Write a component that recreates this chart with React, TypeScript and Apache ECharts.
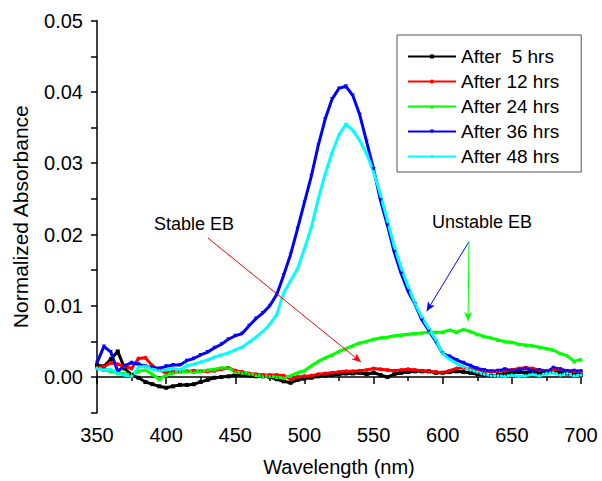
import React, { useEffect, useRef } from "react";
import * as echarts from "echarts";

const wavelength = [
  350, 355, 360, 365, 370, 375, 380, 385, 390, 395,
  400, 405, 410, 415, 420, 425, 430, 435, 440, 445,
  450, 455, 460, 465, 470, 475, 480, 485, 490, 495,
  500, 505, 510, 515, 520, 525, 530, 535, 540, 545,
  550, 555, 560, 565, 570, 575, 580, 585, 590, 595,
  600, 605, 610, 615, 620, 625, 630, 635, 640, 645,
  650, 655, 660, 665, 670, 675, 680, 685, 690, 695, 700,
];

const after5 = [
  1.7, 1.5, 2.5, 3.6, 1.2, 0.3, -0.1, -0.7, -1.0, -1.3,
  -1.5, -1.3, -1.1, -1.1, -1.0, -0.7, -0.4, -0.1, 0.0, 0.1,
  0.3, 0.3, 0.2, 0.1, 0.1, 0.0, -0.3, -0.6, -0.8, -0.4,
  -0.2, -0.1, 0.1, 0.2, 0.3, 0.4, 0.5, 0.5, 0.6, 0.4,
  0.6, 0.3, 0.0, 0.4, 0.6, 0.7, 0.8, 0.8, 0.8, 0.6,
  0.6, 0.7, 0.8, 0.7, 0.6, 0.4, 0.3, 0.2, 0.3, 0.5,
  0.6, 0.7, 0.6, 0.7, 0.6, 0.7, 0.8, 0.6, 0.5, 0.4, 0.3,
];

const after12 = [
  1.3, 1.5, 2.0, 1.8, 1.5, 1.2, 2.6, 2.7, 1.6, 1.0,
  0.6, 0.7, 0.8, 0.8, 0.9, 0.8, 0.8, 0.9, 1.1, 1.3,
  0.9, 0.7, 0.5, 0.4, 0.3, 0.3, 0.3, 0.2, -0.3, 0.0,
  0.1, 0.2, 0.4, 0.5, 0.6, 0.7, 0.8, 0.8, 0.9, 1.0,
  1.2, 1.1, 1.0, 0.9, 1.0, 1.1, 1.0, 0.9, 0.8, 0.7,
  0.6, 0.9, 1.2, 1.3, 1.1, 0.9, 0.8, 0.8, 0.8, 0.9,
  1.0, 1.2, 1.3, 1.2, 1.0, 0.9, 1.0, 1.1, 0.9, 0.8, 0.8,
];

const after24 = [
  1.3, 1.0, 0.8, 0.6, 0.5, 0.3, 0.8, 1.0, 0.4, -0.3,
  0.3, 0.6, 0.7, 0.8, 0.7, 0.8, 1.0, 1.1, 1.3, 1.3,
  0.7, 0.6, 0.5, 0.3, 0.1, 0.1, 0.0, -0.1, 0.2, 0.6,
  0.9, 1.6, 2.2, 2.7, 3.1, 3.6, 4.0, 4.4, 4.8, 5.0,
  5.3, 5.5, 5.6, 5.8, 5.9, 6.0, 6.1, 6.2, 6.3, 6.3,
  6.3, 6.6, 6.3, 6.7, 6.4, 6.0, 5.7, 5.5, 5.2, 5.0,
  4.9, 4.6, 4.5, 4.4, 4.2, 4.0, 3.8, 3.3, 3.0, 2.2, 2.5,
];

const after36 = [
  2.0, 4.3, 3.5, 0.8, 1.6, 2.0, 1.8, 1.5, 1.3, 1.2,
  1.5, 1.7, 1.7, 2.3, 2.6, 3.1, 3.5, 4.1, 4.6, 5.3,
  5.8, 6.1, 7.2, 8.2, 9.0, 10.0, 11.6, 14.3, 17.2, 20.8,
  24.5, 28.2, 32.5, 36.2, 39.0, 40.5, 40.8, 39.5, 36.8, 33.0,
  29.2, 24.8, 21.3, 17.5, 14.5, 12.0, 10.2, 8.0, 6.5, 5.0,
  3.3, 2.9, 2.4, 2.0, 1.6, 1.2, 1.0, 0.8, 0.9, 1.1,
  0.9, 1.0, 1.2, 0.9, 1.0, 0.7, 1.3, 1.1, 0.8, 0.9, 0.8,
];

const after48 = [
  1.2, 1.0, 1.1, 0.5, 0.3, 0.1, 1.4, 1.5, 1.1, 0.9,
  1.0, 1.2, 1.0, 1.6, 1.8, 2.1, 2.4, 2.8, 3.1, 3.4,
  3.8, 4.2, 4.9, 5.6, 6.4, 7.4, 8.8, 11.8, 13.5, 15.2,
  18.0, 21.0, 25.0, 28.5, 31.5, 34.0, 35.5, 34.6, 33.2, 31.3,
  28.8, 25.6, 22.0, 18.3, 15.3, 12.7, 10.3, 8.4, 6.8, 5.2,
  3.3, 2.5, 1.9, 1.4, 1.0, 0.7, 0.4, 0.2, 0.2, 0.1,
  0.3, 0.1, 0.2, 0.4, 0.2, 0.5, 0.6, 0.3, 0.5, 0.2, 0.3,
];

const seriesNames = ["After  5 hrs", "After 12 hrs", "After 24 hrs", "After 36 hrs", "After 48 hrs"];
const seriesColors = ["#000000", "#ff0000", "#00ff00", "#0000ff", "#00ffff"];
const seriesSymbols = ["rect", "circle", "triangle", "triangle", "diamond"];
const seriesRotations = [0, 0, 0, 180, 0];
const seriesValues = [after5, after12, after24, after36, after48];

// Annotation arrows in data coordinates: [x0, y0, x1, y1]
const stableArrow = [430.3, 0.0195, 540.9, 0.0021];
const unstableBlueArrow = [619.0, 0.019, 588.4, 0.00925];
const unstableGreenArrow = [619.0, 0.019, 618.3, 0.00785];

const FONT = "Liberation Sans, Arial, sans-serif";

export default function App() {
  const ref = useRef<HTMLDivElement>(null);

  useEffect(() => {
    if (!ref.current) return;
    const chart = echarts.init(ref.current, null, { renderer: "svg" });

    const lineSeries = seriesValues.map((vals, i) => ({
      name: seriesNames[i],
      type: "line",
      data: wavelength.map((w, j) => [w, vals[j] / 1000]),
      symbol: seriesSymbols[i],
      symbolRotate: seriesRotations[i],
      symbolSize: 4,
      showSymbol: true,
      lineStyle: { color: seriesColors[i], width: 3 },
      itemStyle: { color: seriesColors[i] },
      emphasis: { disabled: true },
    }));

    const arrow = (a: number[], color: string) => [
      { coord: [a[0], a[1]], lineStyle: { color, width: 1, type: "solid" } },
      { coord: [a[2], a[3]] },
    ];

    const option: any = {
      animation: false,
      backgroundColor: "#ffffff",
      textStyle: { fontFamily: FONT },
      grid: { left: 97, right: 21, top: 20.7, bottom: 68.3, outerBoundsMode: "none", containLabel: false },
      legend: {
        data: seriesNames,
        orient: "vertical",
        left: 397,
        top: 35,
        itemWidth: 48,
        itemHeight: 5,
        itemGap: 6,
        padding: [12, 22, 6, 10],
        borderColor: "#555",
        borderWidth: 1,
        backgroundColor: "#ffffff",
        textStyle: { fontSize: 19, color: "#000", fontFamily: FONT, lineHeight: 19 },
      },
      xAxis: {
        type: "value",
        min: 350,
        max: 700,
        interval: 50,
        name: "Wavelength (nm)",
        nameLocation: "middle",
        nameGap: 44,
        nameTextStyle: { fontSize: 20, color: "#000", fontFamily: FONT },
        axisLine: { lineStyle: { color: "#000", width: 1.5 } },
        axisTick: { length: 7, lineStyle: { color: "#000", width: 1.5 } },
        minorTick: { show: true, splitNumber: 2, length: 4, lineStyle: { color: "#000", width: 1.5 } },
        axisLabel: { fontSize: 20, color: "#000", margin: 12, fontFamily: FONT },
        splitLine: { show: false },
      },
      yAxis: {
        type: "value",
        min: -0.005,
        max: 0.05,
        interval: 0.005,
        name: "Normalized Absorbance",
        nameLocation: "middle",
        nameGap: 66,
        nameTextStyle: { fontSize: 21, color: "#000", fontFamily: FONT },
        axisLine: { show: true, lineStyle: { color: "#000", width: 1.5 } },
        axisTick: { length: 6, lineStyle: { color: "#000", width: 1.5 } },
        axisLabel: {
          fontSize: 20,
          color: "#000",
          margin: 14,
          fontFamily: FONT,
          formatter: (v: number) => (Math.round(v * 1000) % 10 === 0 ? v.toFixed(2) : ""),
        },
        splitLine: { show: false },
      },
      series: [
        ...lineSeries,
        {
          name: "annotations",
          type: "line",
          data: [],
          markLine: {
            silent: true,
            symbol: ["none", "arrow"],
            symbolSize: [6, 9],
            label: { show: false },
            data: [
              arrow(stableArrow, "#ff0000"),
              arrow(unstableBlueArrow, "#0000ff"),
              arrow(unstableGreenArrow, "#00ff00"),
            ],
          },
        },
      ],
      graphic: [
        {
          type: "text",
          x: 194,
          y: 224,
          style: { text: "Stable EB", fontSize: 18, fill: "#000", font: `18px ${FONT}`, align: "center", verticalAlign: "middle" },
        },
        {
          type: "text",
          x: 482,
          y: 222,
          style: { text: "Unstable EB", fontSize: 18, fill: "#000", font: `18px ${FONT}`, align: "center", verticalAlign: "middle" },
        },
      ],
    };

    chart.setOption(option);
    return () => chart.dispose();
  }, []);

  return (
    <div
      ref={ref}
      style={{ position: "fixed", left: 0, top: 0, width: 602, height: 481, background: "#fff" }}
    />
  );
}
